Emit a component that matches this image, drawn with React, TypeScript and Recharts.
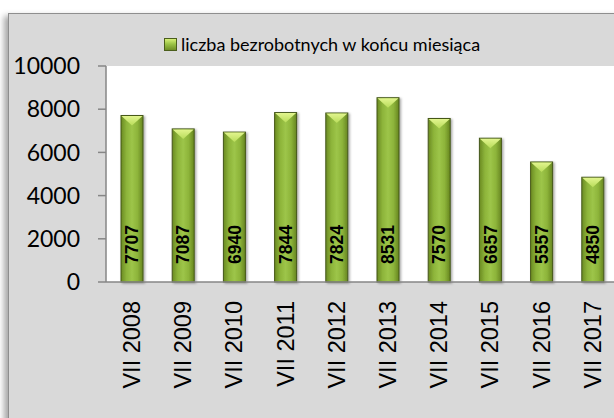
import { BarChart, Bar, XAxis, YAxis, CartesianGrid, LabelList } from "recharts";

const MONTHS = [
  "VII 2008", "VII 2009", "VII 2010", "VII 2011", "VII 2012",
  "VII 2013", "VII 2014", "VII 2015", "VII 2016", "VII 2017",
];
const UNEMPLOYED = [7707, 7087, 6940, 7844, 7824, 8531, 7570, 6657, 5557, 4850];
const Y_TICKS = [0, 2000, 4000, 6000, 8000, 10000];
const SERIES_NAME = "liczba bezrobotnych w końcu miesiąca";

const data = MONTHS.map((m, i) => ({ month: m, value: UNEMPLOYED[i] }));

const BarShape = (props: any) => {
  const { x, y, width, height } = props;
  if (!height || height <= 0) return null;
  const bevel = Math.min(10, height / 2);
  return (
    <g filter="url(#barShadow)">
      <rect x={x} y={y} width={width} height={height} fill="url(#barGrad)" stroke="#45571a" strokeWidth={1} />
      <polygon
        points={`${x + 0.5},${y + 0.5} ${x + width - 0.5},${y + 0.5} ${x + width / 2},${y + bevel}`}
        fill="url(#bevelGrad)"
      />
    </g>
  );
};

const ValueLabel = (props: any) => {
  const { x, y, width, height, value } = props;
  const cx = x + width / 2;
  const cy = y + height - 18;
  return (
    <text
      x={cx}
      y={cy}
      transform={`rotate(-90, ${cx}, ${cy})`}
      textAnchor="start"
      dy="0.36em"
      fontFamily="'Liberation Sans', Arial, sans-serif"
      fontWeight="bold"
      fontSize={17.5}
      fill="#000"
    >
      {value}
    </text>
  );
};

const MonthTick = (props: any) => {
  const { x, y, payload } = props;
  const ty = y + 17;
  return (
    <text
      x={x}
      y={ty}
      transform={`rotate(-90, ${x}, ${ty})`}
      textAnchor="end"
      dy="0.36em"
      fontFamily="'Liberation Sans', Arial, sans-serif"
      fontSize={23.5}
      fill="#000"
    >
      {payload.value}
    </text>
  );
};

const LegendBox = () => (
  <div
    style={{
      position: "absolute",
      left: 155,
      top: 19,
      display: "flex",
      alignItems: "center",
      fontFamily: "Lato, 'Open Sans', sans-serif",
      fontSize: 18,
      color: "#000",
      whiteSpace: "nowrap",
      zIndex: 2,
    }}
  >
    <span
      style={{
        display: "inline-block",
        width: 11,
        height: 11,
        marginRight: 4,
        border: "1px solid #4b5e1c",
        background: "linear-gradient(180deg, #d6f078 0%, #9cc447 45%, #6f8f26 100%)",
      }}
    />
    {SERIES_NAME}
  </div>
);

export default function App() {
  return (
    <div style={{ position: "fixed", left: 0, top: 0, width: 614, height: 418, overflow: "hidden", background: "#fff" }}>
      <div
        style={{
          position: "absolute",
          left: 8,
          top: 13,
          width: 660,
          height: 460,
          background: "#d9d9d9",
          border: "1px solid #8e8e8e",
          boxShadow: "-4px 3px 6px rgba(0,0,0,0.35)",
        }}
      >
        <LegendBox />
        <BarChart
          width={630}
          height={420}
          data={data}
          margin={{ top: 52, right: 21, bottom: 0, left: 0 }}
          barSize={22}
        >
          <defs>
            <linearGradient id="barGrad" x1="0" y1="0" x2="1" y2="0">
              <stop offset="0%" stopColor="#6a8a22" />
              <stop offset="25%" stopColor="#8db43a" />
              <stop offset="50%" stopColor="#9dc549" />
              <stop offset="75%" stopColor="#8db43a" />
              <stop offset="100%" stopColor="#668520" />
            </linearGradient>
            <linearGradient id="bevelGrad" x1="0" y1="0" x2="0" y2="1">
              <stop offset="0%" stopColor="#e2f58e" />
              <stop offset="100%" stopColor="#b8dc5a" />
            </linearGradient>
            <filter id="barShadow" x="-30%" y="-10%" width="160%" height="120%">
              <feDropShadow dx="1.5" dy="1" stdDeviation="1.2" floodColor="#000" floodOpacity="0.35" />
            </filter>
          </defs>
          <CartesianGrid fill="#ffffff" horizontal={false} vertical={false} />
          <XAxis
            dataKey="month"
            interval={0}
            height={152}
            tickLine={false}
            tickSize={0}
            axisLine={{ stroke: "#868686", strokeWidth: 1.5 }}
            tick={<MonthTick />}
          />
          <YAxis
            width={97}
            domain={[0, 10000]}
            ticks={Y_TICKS}
            interval={0}
            tickSize={8}
            tickMargin={18}
            axisLine={{ stroke: "#868686", strokeWidth: 1.5 }}
            tickLine={{ stroke: "#868686", strokeWidth: 1.5 }}
            tick={{ fill: "#000", fontSize: 23, fontFamily: "Lato, 'Open Sans', sans-serif" }}
          />
          <Bar dataKey="value" name={SERIES_NAME} shape={<BarShape />} isAnimationActive={false}>
            <LabelList dataKey="value" content={<ValueLabel />} />
          </Bar>
        </BarChart>
      </div>
    </div>
  );
}
